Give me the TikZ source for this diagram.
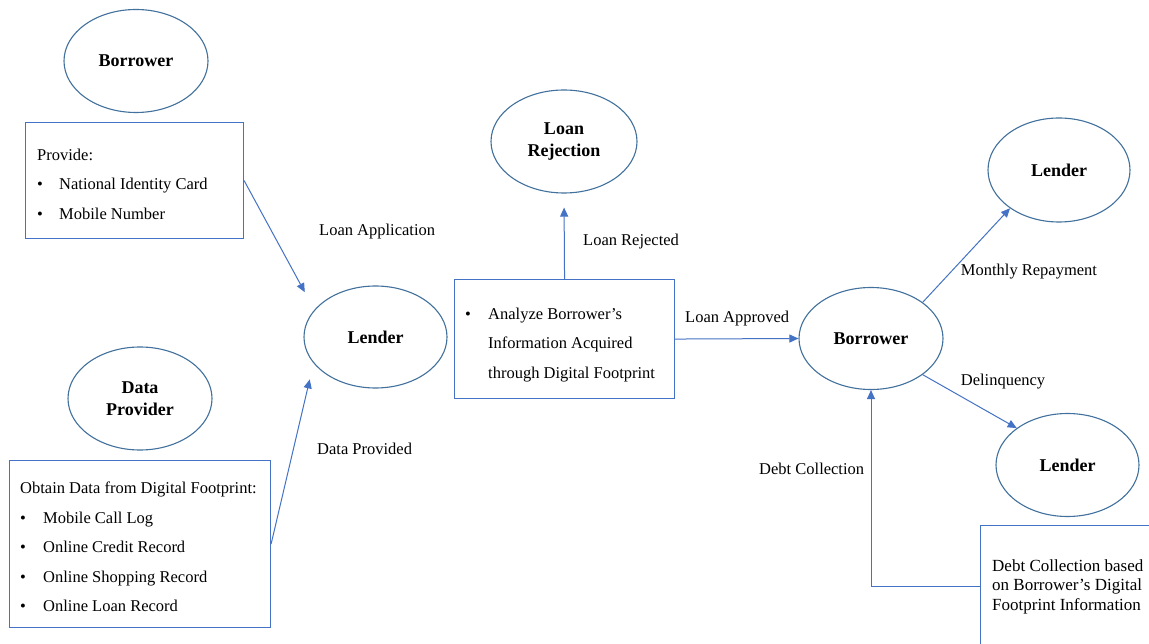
\documentclass[tikz,border=0pt]{standalone}
\usepackage{fontspec}
\setmainfont{Liberation Serif}
\usetikzlibrary{shapes.geometric,arrows.meta,calc}
\definecolor{elline}{HTML}{41719C}
\definecolor{arrcol}{HTML}{4472C4}
\definecolor{boxline}{HTML}{4472C4}
\tikzset{
 ent/.style={ellipse, draw=elline, line width=1.1pt, inner sep=0pt, align=center,
   font=\fontsize{18}{22}\selectfont\bfseries},
 infobox/.style={rectangle, draw=boxline, line width=1.1pt, anchor=north west, inner sep=0pt},
 boxtext/.style={anchor=north west, inner sep=0pt, align=left, font=\fontsize{16.5}{29.4}\selectfont},
 lbl/.style={anchor=base west, inner sep=0pt, font=\fontsize{16.5}{20}\selectfont},
 flow/.style={draw=arrcol, line width=1pt, -{Triangle[length=9pt,width=8pt]}},
}
\newcommand{\bul}[1]{\makebox[#1][l]{\textbullet}}
\begin{document}
\begin{tikzpicture}[x=1pt,y=-1pt]
\useasboundingbox (0,0) rectangle (1149,644);
\fill[white] (0,0) rectangle (1149,644);
\clip (0,0) rectangle (1149,644);

% entities
\node[ent, minimum width=144pt, minimum height=103pt] (bor1) at (136,61) {Borrower};
\node[ent, minimum width=143pt, minimum height=102pt] (lend) at (375.5,337) {Lender};
\node[ent, minimum width=144pt, minimum height=103pt] (dp) at (140,398.5) {Data\\Provider};
\node[ent, minimum width=146pt, minimum height=103pt] (rej) at (564,141.5) {Loan\\Rejection};
\node[ent, minimum width=144pt, minimum height=102pt] (bor2) at (871,338.5) {Borrower};
\node[ent, minimum width=142pt, minimum height=104pt] (lend2) at (1059,170) {Lender};
\node[ent, minimum width=143pt, minimum height=103pt] (lend3) at (1067.5,465) {Lender};

% boxes
\node[infobox, minimum width=218pt, minimum height=116pt] (prov) at (25,122) {};
\node[boxtext] (provtxt) at (37,148.7) {Provide:\\\bul{22pt}National Identity Card\\\bul{22pt}Mobile Number};

\node[infobox, minimum width=261pt, minimum height=167pt] (obt) at (9,460) {};
\node[boxtext] (obttxt) at (20,482) {Obtain Data from Digital Footprint:\\\bul{23pt}Mobile Call Log\\\bul{23pt}Online Credit Record\\\bul{23pt}Online Shopping Record\\\bul{23pt}Online Loan Record};

\node[infobox, minimum width=220pt, minimum height=119pt] (ana) at (454,279) {};
\node[boxtext, font=\fontsize{16.5}{29.2}\selectfont] (anatxt) at (465,308) {\bul{23pt}Analyze Borrower’s\\\hspace*{23pt}Information Acquired\\\hspace*{23pt}through Digital Footprint};

\node[infobox, minimum width=200pt, minimum height=140pt] (dbox) at (980,525) {};
\node[boxtext, font=\fontsize{17}{19.6}\selectfont] (dtxt) at (992,559.4) {Debt Collection based\\on Borrower’s Digital\\Footprint Information};

% connectors
\draw[flow, shorten >=20pt] (prov.east) -- (lend.156.5);
\draw[flow, shorten >=16.5pt] (obt.east) -- (lend.203);
\draw[flow, shorten >=14pt] (ana.north) -- (rej.south);
\draw[flow] (ana.east) -- (bor2.west);
\draw[flow] (bor2.35) -- (lend2.218);
\draw[flow] (bor2.325) -- (lend3.144);
\draw[flow] (dbox.west |- dtxt.center) -| (bor2.south);

% labels
\node[lbl] (l1) at (319,236) {Loan Application};
\node[lbl] (l2) at (317,454.3) {Data Provided};
\node[lbl] (l3) at (583,246) {Loan Rejected};
\node[lbl] (l4) at (685,322.7) {Loan Approved};
\node[lbl] (l5) at (960.7,275.2) {Monthly Repayment};
\node[lbl] (l6) at (960.7,385.2) {Delinquency};
\node[lbl] (l7) at (759,474) {Debt Collection};
\end{tikzpicture}
\end{document}
